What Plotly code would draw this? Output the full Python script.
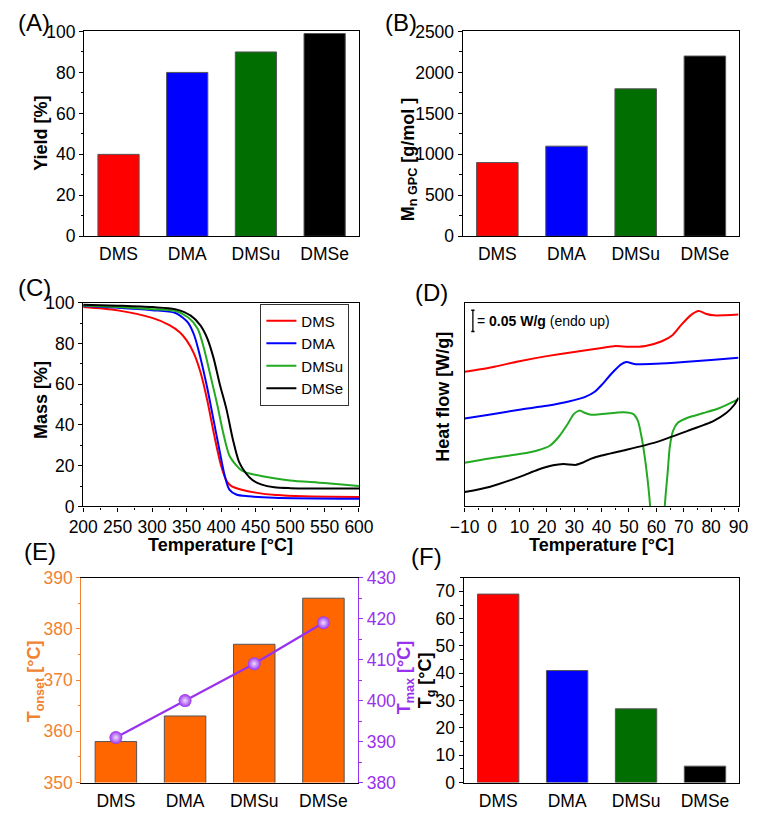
import plotly.graph_objects as go

W, H = 766, 814
FONT = "Liberation Sans, Arial, sans-serif"

# ---------------- data ----------------
samples = ["DMS", "DMA", "DMSu", "DMSe"]
bar_colors = ["#FF0000", "#0000FF", "#006E00", "#000000"]
yield_pct = [40, 80, 90, 99]
mn_gpc = [900, 1100, 1800, 2200]
t_onset = [358, 363, 377, 386]
t_max = [391, 400, 409, 419]
t_g = [69, 41, 27, 6]

# TGA curves (Temperature °C, Mass %)
tga_dms_T = [200, 250, 300, 325, 340, 350, 360, 370, 380, 390, 400, 408, 415, 430, 450, 480, 520, 600]
tga_dms_m = [97.8, 96.2, 92.5, 89, 85.5, 81.5, 75.5, 66, 52, 35, 20, 12.5, 10, 8.2, 6.8, 5.6, 5.0, 4.7]
tga_dma_T = [200, 250, 300, 333, 345, 352, 361, 370, 380, 389, 398, 405, 412, 422, 440, 477, 600]
tga_dma_m = [98.3, 97.5, 96.3, 95, 92.5, 90.2, 84, 73, 58, 42.5, 27, 15.5, 8.3, 5.9, 5, 4.3, 3.8]
tga_dmsu_T = [200, 250, 300, 333, 352, 366, 375, 384, 394, 403, 412, 422, 431, 440, 460, 477, 500, 550, 600]
tga_dmsu_m = [98.6, 97.8, 96.8, 96, 92.8, 87.2, 77.7, 65, 50.6, 36.2, 25, 20.2, 17.4, 16.3, 14.8, 13.8, 12.8, 11.5, 10]
tga_dmse_T = [200, 250, 300, 333, 356, 370, 380, 389, 398, 408, 417, 426, 436, 445, 459, 477, 500, 600]
tga_dmse_m = [99.0, 98.5, 97.8, 96.8, 93.6, 88.8, 82.4, 72.9, 60.1, 47.4, 33, 21.9, 16.3, 13.1, 10.7, 9.4, 9.0, 8.8]
tga_colors = ["#FF0000", "#0000FF", "#22AA22", "#000000"]

# DSC curves (Temperature °C, heat flow W/g, offset stacked)
dsc_dms_T = [-10, 0, 10, 20, 30, 40, 45, 50, 56, 62, 66, 69, 72.5, 75.5, 78, 81, 90]
dsc_dms_q = [0.317, 0.328, 0.342, 0.354, 0.364, 0.373, 0.378, 0.376, 0.378, 0.389, 0.404, 0.427, 0.450, 0.460, 0.454, 0.450, 0.452]
dsc_dma_T = [-10, 0, 10, 20, 28, 34, 37.5, 40, 43.5, 47, 49, 52.5, 60, 70, 80, 90]
dsc_dma_q = [0.207, 0.217, 0.228, 0.237, 0.247, 0.258, 0.270, 0.286, 0.312, 0.334, 0.340, 0.335, 0.336, 0.340, 0.345, 0.350]
dsc_dmsu_T = [-10, -1, 10.6, 16.5, 21.1, 24.6, 27.5, 29.9, 32, 34, 36.3, 48, 51.5, 53.3, 54.4, 55.6, 56.8, 57.7,
              58.5, 60.5, 62.4, 63.1, 64.1, 64.9, 66.1, 67.8, 71.4, 77.2, 83.1, 90]
dsc_dmsu_q = [0.103, 0.113, 0.124, 0.132, 0.143, 0.166, 0.193, 0.218, 0.226, 0.220, 0.216, 0.222, 0.218, 0.201, 0.170,
              0.124, 0.063, 0.002, -0.30, -0.50, -0.30, 0.002, 0.078, 0.140, 0.178, 0.197, 0.209, 0.220, 0.232, 0.253]
dsc_dmse_T = [-10, -1, 10.6, 16.5, 22.3, 26, 30.5, 33, 36, 40, 48, 59.7, 71.4, 80.8, 85.5, 88.4, 90]
dsc_dmse_q = [0.034, 0.046, 0.071, 0.086, 0.097, 0.100, 0.098, 0.103, 0.112, 0.120, 0.132, 0.151, 0.178, 0.201, 0.220, 0.239, 0.256]
scale_bar_wg = 0.05

ORANGE_BAR = "#FF6600"
ORANGE_AX = "#F08232"
PURPLE = "#9932EE"
BAR_EDGE = "#555555"
TICK_SIZE = 17.5
TITLE_SIZE = 18

# ---------------- layout helpers ----------------
def dom_x(a, b):
    return [a / W, b / W]

def dom_y(top, bottom):
    return [1 - bottom / H, 1 - top / H]

def base_axis(**kw):
    d = dict(showline=True, linecolor="black", linewidth=1.3, mirror=True,
             ticks="outside", ticklen=4, tickwidth=1.2, tickcolor="black",
             tickfont=dict(size=TICK_SIZE, color="black", family=FONT),
             showgrid=False, zeroline=False)
    d.update(kw)
    return d

fig = go.Figure()

# A
fig.add_trace(go.Bar(x=samples, y=yield_pct, marker=dict(color=bar_colors, line=dict(color=BAR_EDGE, width=1)),
                     width=0.6, showlegend=False, xaxis="x", yaxis="y"))
# B
fig.add_trace(go.Bar(x=samples, y=mn_gpc, marker=dict(color=bar_colors, line=dict(color=BAR_EDGE, width=1)),
                     width=0.6, showlegend=False, xaxis="x2", yaxis="y2"))
# C
for name, T, m, c in [("DMS", tga_dms_T, tga_dms_m, tga_colors[0]),
                      ("DMA", tga_dma_T, tga_dma_m, tga_colors[1]),
                      ("DMSu", tga_dmsu_T, tga_dmsu_m, tga_colors[2]),
                      ("DMSe", tga_dmse_T, tga_dmse_m, tga_colors[3])]:
    fig.add_trace(go.Scatter(x=T, y=m, mode="lines", name=name,
                             line=dict(color=c, width=2, shape="spline", smoothing=0.8),
                             xaxis="x3", yaxis="y3"))
# D
for T, q, c in [(dsc_dms_T, dsc_dms_q, tga_colors[0]), (dsc_dma_T, dsc_dma_q, tga_colors[1]),
                (dsc_dmsu_T, dsc_dmsu_q, tga_colors[2]), (dsc_dmse_T, dsc_dmse_q, tga_colors[3])]:
    fig.add_trace(go.Scatter(x=T, y=q, mode="lines", showlegend=False,
                             line=dict(color=c, width=2, shape="spline", smoothing=0.6),
                             xaxis="x4", yaxis="y4"))
# E
fig.add_trace(go.Bar(x=samples, y=t_onset, marker=dict(color=ORANGE_BAR, line=dict(color=BAR_EDGE, width=1)),
                     width=0.6, showlegend=False, xaxis="x5", yaxis="y5"))
fig.add_trace(go.Scatter(x=samples, y=t_max, mode="lines+markers", showlegend=False,
                         line=dict(color=PURPLE, width=2.2),
                         marker=dict(size=13, color=PURPLE, gradient=dict(type="radial", color="#F0DDFF"),
                                     line=dict(width=0)),
                         xaxis="x5", yaxis="y7"))
# F
fig.add_trace(go.Bar(x=samples, y=t_g, marker=dict(color=bar_colors, line=dict(color=BAR_EDGE, width=1)),
                     width=0.6, showlegend=False, xaxis="x6", yaxis="y6"))

cat_range = [-0.5, 3.5]
minor = lambda dt, col="black": dict(dtick=dt, ticks="outside", ticklen=2.5, tickwidth=1, tickcolor=col)

fig.update_layout(
    width=W, height=H, margin=dict(l=0, r=0, t=0, b=0),
    paper_bgcolor="white", plot_bgcolor="white",
    font=dict(family=FONT, size=16, color="black"),
    xaxis=base_axis(domain=dom_x(72, 358), anchor="y", range=cat_range, ticks="", ticklabelstandoff=2),
    yaxis=base_axis(domain=dom_y(22, 232), anchor="x", range=[0, 100], dtick=20, minor=minor(10)),
    xaxis2=base_axis(domain=dom_x(466, 754), anchor="y2", range=cat_range, ticks="", ticklabelstandoff=2),
    yaxis2=base_axis(domain=dom_y(22, 232), anchor="x2", range=[0, 2500], dtick=500, minor=minor(250)),
    xaxis3=base_axis(domain=dom_x(71, 358), anchor="y3", range=[200, 600], dtick=50, minor=minor(25)),
    yaxis3=base_axis(domain=dom_y(300, 509), anchor="x3", range=[0, 100], dtick=20, minor=minor(10)),
    xaxis4=base_axis(domain=dom_x(468, 753), anchor="y4", range=[-10, 90], dtick=10, minor=minor(5)),
    yaxis4=base_axis(domain=dom_y(300, 509), anchor="x4", range=[0, 0.48], showticklabels=False, ticks=""),
    xaxis5=base_axis(domain=dom_x(69, 357), anchor="y5", range=cat_range, ticks="", ticklabelstandoff=2),
    yaxis5=base_axis(domain=dom_y(582, 792), anchor="x5", range=[350, 390], dtick=10, mirror=False,
                     linecolor=ORANGE_AX, tickcolor=ORANGE_AX,
                     tickfont=dict(size=TICK_SIZE, color=ORANGE_AX, family=FONT), minor=minor(5, ORANGE_AX)),
    yaxis7=base_axis(overlaying="y5", side="right", anchor="x5", range=[380, 430], dtick=10, mirror=False,
                     linecolor=PURPLE, tickcolor=PURPLE,
                     tickfont=dict(size=TICK_SIZE, color=PURPLE, family=FONT), minor=minor(5, PURPLE)),
    xaxis6=base_axis(domain=dom_x(467, 754), anchor="y6", range=cat_range, ticks="", ticklabelstandoff=2),
    yaxis6=base_axis(domain=dom_y(582, 792), anchor="x6", range=[0, 75], dtick=10, minor=minor(5)),
    legend=dict(x=348 / W, xanchor="right", y=1 - 301 / H, yanchor="top",
                bordercolor="#333333", borderwidth=1, bgcolor="white",
                font=dict(size=15, family=FONT, color="black"), tracegroupgap=0, itemwidth=30),
    bargap=0.4,
)

annots = []
def ann(text, px, py, size=TITLE_SIZE, color="black", angle=0, xanchor="center"):
    annots.append(dict(text=text, x=px / W, y=1 - py / H, xref="paper", yref="paper",
                       showarrow=False, textangle=angle, xanchor=xanchor, yanchor="middle",
                       font=dict(size=size, color=color, family=FONT)))

# panel labels
for lab, px, py in [("(A)", 20, 13), ("(B)", 402, 13), ("(C)", 20, 285),
                    ("(D)", 433, 290), ("(E)", 26, 555), ("(F)", 428, 560)]:
    ann(lab, px, py, size=24)

# axis titles
ann("<b>Yield [%]</b>", 27, 126, angle=-90)
ann("<b>M<sub>n GPC</sub> [g/mol ]</b>", 410, 153, angle=-90)
ann("<b>Mass [%]</b>", 27, 400, angle=-90)
ann("<b>Temperature [°C]</b>", 214, 548)
ann("<b>Heat flow [W/g]</b>", 446, 397, angle=-90)
ann("<b>Temperature [°C]</b>", 610, 548)
ann("<b>T<sub>onset</sub> [°C]</b>", 21, 688, color=ORANGE_AX, angle=-90)
ann("<b>T<sub>max</sub> [°C]</b>", 406, 685, color=PURPLE, angle=-90)
ann("<b>T<sub>g</sub> [°C]</b>", 428, 687, angle=-90)

# scale bar text in D
annots.append(dict(text="= <b>0.05 W/g</b> (endo up)", x=-6.2, y=0.437, xref="x4", yref="y4",
                   showarrow=False, xanchor="left", yanchor="middle",
                   font=dict(size=14, color="black", family=FONT)))
fig.update_layout(annotations=annots)

# scale bar shape
sb_x, sb_top = -7.0, 0.462
shapes = [
    dict(type="line", xref="x4", yref="y4", x0=sb_x, x1=sb_x, y0=sb_top - scale_bar_wg, y1=sb_top,
         line=dict(color="black", width=1.3)),
    dict(type="line", xref="x4", yref="y4", x0=sb_x - 0.6, x1=sb_x + 0.6, y0=sb_top, y1=sb_top,
         line=dict(color="black", width=1.3)),
    dict(type="line", xref="x4", yref="y4", x0=sb_x - 0.6, x1=sb_x + 0.6, y0=sb_top - scale_bar_wg,
         y1=sb_top - scale_bar_wg, line=dict(color="black", width=1.3)),
]
fig.update_layout(shapes=shapes)

fig.write_html("out.html")
